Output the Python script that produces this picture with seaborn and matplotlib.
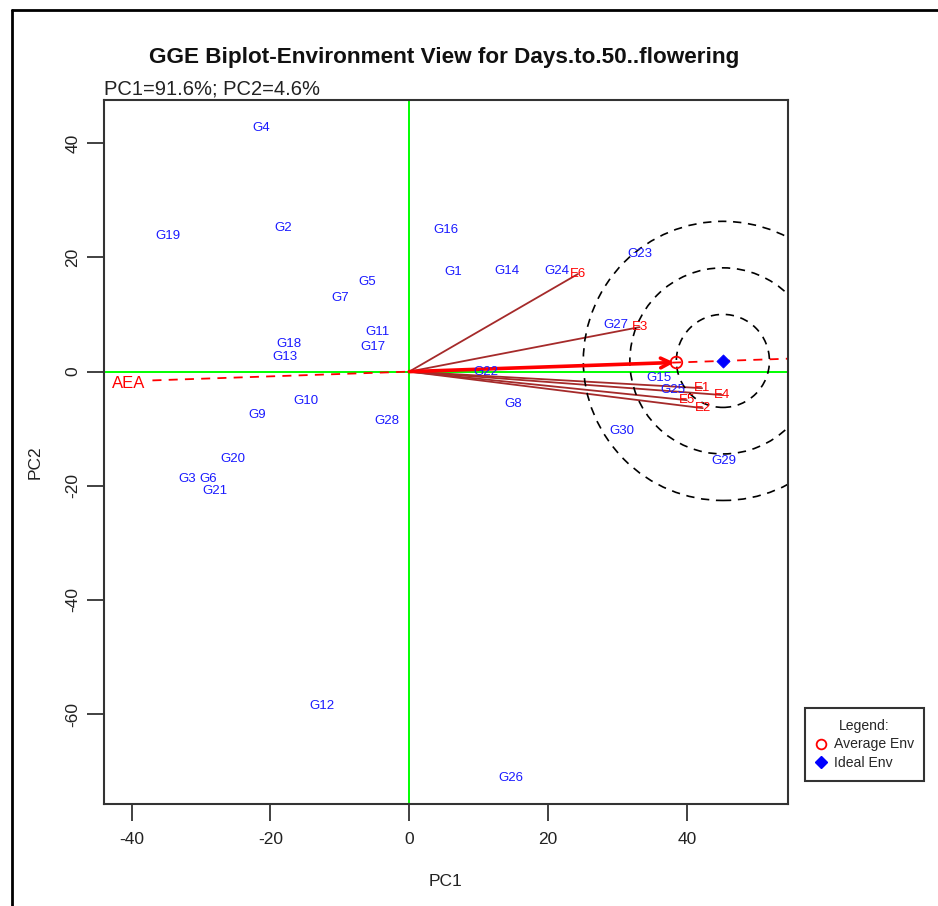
import numpy as np
import pandas as pd
import matplotlib
matplotlib.use("Agg")
import matplotlib.pyplot as plt
import seaborn as sns
from matplotlib.patches import Ellipse
from matplotlib.lines import Line2D

# ---------------- data ----------------
genotypes = ["G1", "G2", "G3", "G4", "G5", "G6", "G7", "G8", "G9", "G10",
             "G11", "G12", "G13", "G14", "G15", "G16", "G17", "G18", "G19", "G20",
             "G21", "G22", "G23", "G24", "G25", "G26", "G27", "G28", "G29", "G30"]
gen_pc1 = [6.3, -18.2, -32.0, -21.4, -6.1, -29.0, -10.0, 15.0, -21.9, -14.9,
           -4.5, -12.6, -17.9, 14.1, 36.0, 5.3, -5.2, -17.3, -34.8, -25.4,
           -28.0, 11.1, 33.2, 21.3, 38.0, 14.7, 29.8, -3.2, 45.3, 30.7]
gen_pc2 = [17.5, 25.2, -18.8, 42.7, 15.7, -18.8, 12.9, -5.7, -7.6, -5.2,
           6.9, -58.6, 2.6, 17.6, -1.1, 24.8, 4.3, 4.8, 23.8, -15.3,
           -20.9, -0.1, 20.6, 17.6, -3.2, -71.2, 8.2, -8.7, -15.7, -10.4]

environments = ["E1", "E2", "E3", "E4", "E5", "E6"]
env_pc1 = [42.2, 42.3, 33.2, 45.1, 40.0, 24.3]
env_pc2 = [-2.9, -6.4, 7.8, -4.1, -5.0, 17.1]

average_env = [38.5, 1.6]
ideal_env = [45.2, 1.88]
aea_extent = [-37.0, 70.0]
n_rings = 3

x_ticks = [-40, -20, 0, 20, 40]
y_ticks = [-60, -40, -20, 0, 20, 40]
x_lim = [-43.98, 54.58]
y_lim = [-75.77, 47.6]

title = "GGE Biplot-Environment View for Days.to.50..flowering"
subtitle = "PC1=91.6%; PC2=4.6%"

# ---------------- style ----------------
sns.set_style("white")
plt.rcParams["font.family"] = ["Liberation Sans", "DejaVu Sans"]

W, H = 938, 906
fig = plt.figure(figsize=(W / 100, H / 100), dpi=100)
ax = fig.add_axes([104 / W, 1 - 804 / H, (788 - 104) / W, (804 - 100) / H])
ax.set_xlim(x_lim)
ax.set_ylim(y_lim)

# green reference axes
ax.axhline(0, color="#00FF00", lw=1.4, zorder=1)
ax.axvline(0, color="#00FF00", lw=1.4, zorder=1)

# environment vectors
for ex, ey in zip(env_pc1, env_pc2):
    ax.plot([0, ex], [0, ey], color="#A52A2A", lw=1.3, zorder=2)

# average environment axis (dashed)
slope = average_env[1] / average_env[0]
aea = pd.DataFrame({"x": aea_extent, "y": [v * slope for v in aea_extent]})
sns.lineplot(data=aea, x="x", y="y", ax=ax, color="red", lw=1.3,
             dashes=False, linestyle=(0, (5, 4)), zorder=2)
ax.text(aea_extent[0] - 3.4, aea_extent[0] * slope - 0.5, "AEA", color="red",
        fontsize=12, ha="center", va="center")

# average environment arrow
ax.annotate("", xy=(average_env[0] - 0.3, average_env[1]), xytext=(0, 0),
            arrowprops=dict(arrowstyle="->,head_length=0.7,head_width=0.35",
                            color="red", lw=2.6, shrinkA=0, shrinkB=0), zorder=3)

# concentric rings around the ideal environment (circles in screen space)
fig.canvas.draw()
p0 = ax.transData.transform((0, 0))
sx = ax.transData.transform((1, 0))[0] - p0[0]
sy = ax.transData.transform((0, 1))[1] - p0[1]
r_px = np.hypot((ideal_env[0] - average_env[0]) * sx,
                (ideal_env[1] - average_env[1]) * sy)
for k in range(1, n_rings + 1):
    ax.add_patch(Ellipse(ideal_env, 2 * k * r_px / sx, 2 * k * r_px / sy,
                         fill=False, ec="black", lw=1.2, ls=(0, (5, 4)), zorder=2))

# genotype labels
for g, x, y in zip(genotypes, gen_pc1, gen_pc2):
    ax.text(x, y, g, color="#1a1aff", fontsize=9.5, ha="center", va="center", zorder=4)

# environment labels
for e, x, y in zip(environments, env_pc1, env_pc2):
    ax.text(x, y, e, color="red", fontsize=9.5, ha="center", va="center", zorder=4)

# markers
pts = pd.DataFrame({"x": [average_env[0]], "y": [average_env[1]]})
sns.scatterplot(data=pts, x="x", y="y", ax=ax, marker="o", s=70,
                facecolor="none", edgecolor="red", linewidth=1.3, zorder=5)
pts2 = pd.DataFrame({"x": [ideal_env[0]], "y": [ideal_env[1]]})
sns.scatterplot(data=pts2, x="x", y="y", ax=ax, marker="D", s=45,
                color="blue", edgecolor="blue", zorder=5)

# axes styling
ax.set_xticks(x_ticks)
ax.set_yticks(y_ticks)
ax.set_xticklabels([str(v) for v in x_ticks])
ax.set_yticklabels([str(v) for v in y_ticks], rotation=90, va="center")
ax.tick_params(axis="both", which="both", direction="out", length=12, width=1.3,
               labelsize=12.5, color="#333333", labelcolor="#222222",
               bottom=True, left=True, top=False, right=False)
ax.tick_params(axis="x", pad=8)
ax.tick_params(axis="y", pad=5)
for s in ax.spines.values():
    s.set_visible(True)
    s.set_color("#333333")
    s.set_linewidth(1.5)

ax.set_xlabel("PC1", fontsize=12.5, color="#222222")
ax.set_ylabel("PC2", fontsize=12.5, color="#222222")
ax.xaxis.set_label_coords((445 - 104) / 684, (804 - 882) / 704)
ax.xaxis.label.set_va("center")
ax.yaxis.set_label_coords((35 - 104) / 684, (804 - 462) / 704)
ax.yaxis.label.set_va("center")

fig.text(444 / W, 1 - 57 / H, title, ha="center", va="center",
         fontsize=16.2, fontweight="bold", color="#111111")
fig.text(104 / W, 1 - 89 / H, subtitle, ha="left", va="center",
         fontsize=14.5, color="#222222")

# legend
handles = [Line2D([], [], marker="o", ls="none", mfc="none", mec="red", ms=7, mew=1.3),
           Line2D([], [], marker="D", ls="none", mfc="blue", mec="blue", ms=6)]
leg = fig.legend(handles, ["Average Env", "Ideal Env"], title="Legend:",
                 loc="upper left", bbox_to_anchor=(805 / W, 1 - 708 / H),
                 bbox_transform=fig.transFigure, fontsize=10.1, title_fontsize=10.1,
                 frameon=True, fancybox=False, edgecolor="black",
                 handlelength=0.8, handletextpad=0.5, borderpad=0.75,
                 labelspacing=0.35, borderaxespad=0)
leg.get_frame().set_linewidth(1.5)

# outer frame (top and left edges)
fig.add_artist(Line2D([12 / W, 12 / W], [0, 1 - 10 / H], transform=fig.transFigure,
                      color="black", lw=2))
fig.add_artist(Line2D([12 / W, 1], [1 - 10 / H, 1 - 10 / H], transform=fig.transFigure,
                      color="black", lw=2))

fig.savefig("out.png", dpi=100)
